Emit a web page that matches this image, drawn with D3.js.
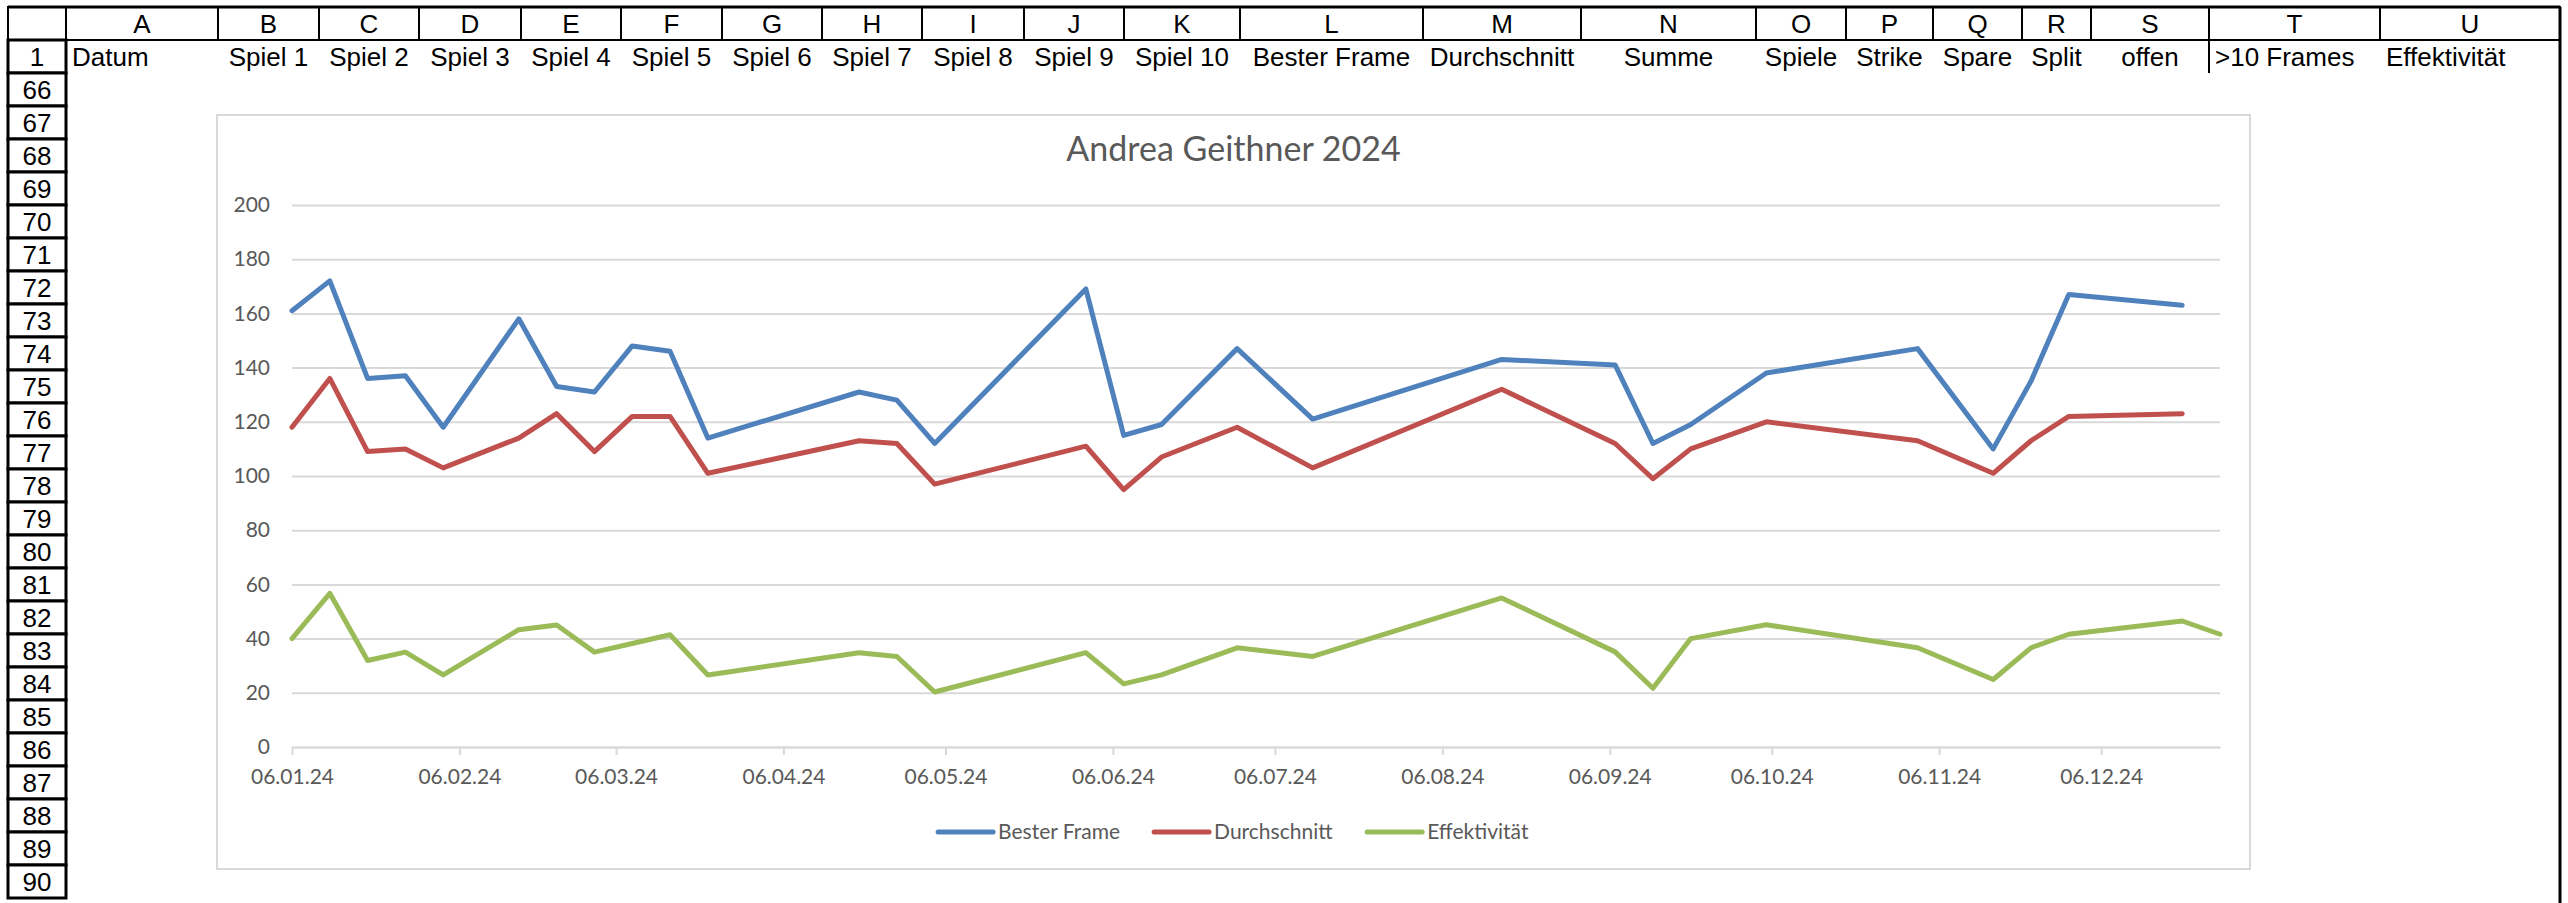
<!DOCTYPE html>
<html>
    <head>
        <title>Andrea Geithner 2024</title>
        <meta charset="utf-8" />
        <script src="https://d3js.org/d3.v7.min.js"></script>
        <style>
            body {
                margin: 0;
                background: white;
            }
            svg {
                display: block;
            }
            .sheet text {
                font-family: 'Liberation Sans', Arial, sans-serif;
                font-size: 26px;
                fill: black;
            }
            .chart text {
                font-family: Lato, 'Open Sans', sans-serif;
                fill: #595959;
            }
        </style>
    </head>
    <body>
        <svg width="2568" height="903"></svg>
        <script>
            // Tabelle
            const columns = ['A', 'B', 'C', 'D', 'E', 'F', 'G', 'H', 'I', 'J', 'K', 'L', 'M', 'N', 'O', 'P', 'Q', 'R', 'S', 'T', 'U']
            const headerRow = ['Datum', 'Spiel 1', 'Spiel 2', 'Spiel 3', 'Spiel 4', 'Spiel 5', 'Spiel 6', 'Spiel 7', 'Spiel 8', 'Spiel 9', 'Spiel 10', 'Bester Frame', 'Durchschnitt', 'Summe', 'Spiele', 'Strike', 'Spare', 'Split', 'offen', '>10 Frames', 'Effektivität']
            const rowNumbers = [1, 66, 67, 68, 69, 70, 71, 72, 73, 74, 75, 76, 77, 78, 79, 80, 81, 82, 83, 84, 85, 86, 87, 88, 89, 90]

            // Diagramm
            const chartTitle = 'Andrea Geithner 2024'
            const dates = ['06.01.24', '13.01.24', '20.01.24', '27.01.24', '03.02.24', '17.02.24', '24.02.24', '02.03.24', '09.03.24', '16.03.24', '23.03.24', '20.04.24', '27.04.24', '04.05.24', '01.06.24', '08.06.24', '15.06.24', '29.06.24', '13.07.24', '17.08.24', '07.09.24', '14.09.24', '21.09.24', '05.10.24', '02.11.24', '16.11.24', '23.11.24', '30.11.24', '21.12.24', '28.12.24']
            const besterFrame = [161, 172, 136, 137, 118, 158, 133, 131, 148, 146, 114, 131, 128, 112, 169, 115, 119, 147, 121, 143, 141, 112, 119, 138, 147, 110, 135, 167, 163, null]
            const durchschnitt = [118, 136, 109, 110, 103, 114, 123, 109, 122, 122, 101, 113, 112, 97, 111, 95, 107, 118, 103, 132, 112, 99, 110, 120, 113, 101, 113, 122, 123, null]
            const effektivitaet = [40, 56.7, 31.9, 35, 26.6, 43.3, 45, 35, 38.2, 41.4, 26.6, 34.8, 33.4, 20.3, 34.8, 23.3, 26.6, 36.6, 33.4, 55, 35.1, 21.7, 40, 45.1, 36.6, 24.9, 36.6, 41.6, 46.5, 41.6]
            const seriesNames = ['Bester Frame', 'Durchschnitt', 'Effektivität']
            const seriesColors = ['#4f81bd', '#c0504d', '#9bbb59']
            const yTicks = [0, 20, 40, 60, 80, 100, 120, 140, 160, 180, 200]
            const xTickLabels = ['06.01.24', '06.02.24', '06.03.24', '06.04.24', '06.05.24', '06.06.24', '06.07.24', '06.08.24', '06.09.24', '06.10.24', '06.11.24', '06.12.24']

            const svg = d3.select('svg')

            // ---- spreadsheet grid ----
            const colEdges = [66, 218, 319, 419, 521, 621, 722, 822, 922, 1024, 1124, 1240, 1423, 1581, 1756, 1846, 1933, 2022, 2091, 2209, 2380, 2560]
            const leftAligned = ['Datum', '>10 Frames', 'Effektivität']
            const sheetLeft = 8
            const headTop = 7
            const rowH = 33
            const rowTop = (i) => headTop + rowH * (i + 1)

            const sheet = svg.append('g').attr('class', 'sheet')

            // column letters
            const colCells = sheet
                .selectAll('g.col')
                .data(columns)
                .enter()
                .append('g')
                .attr('class', 'col')
            colCells
                .append('rect')
                .attr('x', (d, i) => colEdges[i])
                .attr('y', headTop)
                .attr('width', (d, i) => colEdges[i + 1] - colEdges[i])
                .attr('height', rowH)
                .style('fill', 'white')
                .style('stroke', 'black')
                .style('stroke-width', '2px')
            colCells
                .append('text')
                .attr('x', (d, i) => (colEdges[i] + colEdges[i + 1]) / 2)
                .attr('y', headTop + rowH / 2 + 9)
                .attr('text-anchor', 'middle')
                .text((d) => d)

            // corner cell
            sheet
                .append('rect')
                .attr('x', sheetLeft)
                .attr('y', headTop)
                .attr('width', colEdges[0] - sheetLeft)
                .attr('height', rowH)
                .style('fill', 'white')
                .style('stroke', 'black')
                .style('stroke-width', '2px')

            // row numbers
            const rowCells = sheet
                .selectAll('g.row')
                .data(rowNumbers)
                .enter()
                .append('g')
                .attr('class', 'row')
            rowCells
                .append('rect')
                .attr('x', sheetLeft)
                .attr('y', (d, i) => rowTop(i))
                .attr('width', colEdges[0] - sheetLeft)
                .attr('height', rowH)
                .style('fill', 'white')
                .style('stroke', 'black')
                .style('stroke-width', '3px')
            rowCells
                .append('text')
                .attr('x', (sheetLeft + colEdges[0]) / 2)
                .attr('y', (d, i) => rowTop(i) + rowH / 2 + 9)
                .attr('text-anchor', 'middle')
                .text((d) => d)

            // header row 1
            sheet
                .selectAll('text.head')
                .data(headerRow)
                .enter()
                .append('text')
                .attr('class', 'head')
                .attr('x', (d, i) => (leftAligned.includes(d) ? colEdges[i] + 6 : (colEdges[i] + colEdges[i + 1]) / 2))
                .attr('y', rowTop(0) + rowH / 2 + 9)
                .attr('text-anchor', (d) => (leftAligned.includes(d) ? 'start' : 'middle'))
                .text((d) => d)

            // left border of ">10 Frames" and outer sheet borders
            sheet
                .append('line')
                .attr('x1', colEdges[19])
                .attr('x2', colEdges[19])
                .attr('y1', rowTop(0))
                .attr('y2', rowTop(1))
                .style('stroke', 'black')
                .style('stroke-width', '2px')
            sheet
                .append('line')
                .attr('x1', colEdges[21])
                .attr('x2', colEdges[21])
                .attr('y1', headTop)
                .attr('y2', 903)
                .style('stroke', 'black')
                .style('stroke-width', '3px')
            sheet
                .append('line')
                .attr('x1', sheetLeft)
                .attr('x2', colEdges[21])
                .attr('y1', headTop)
                .attr('y2', headTop)
                .style('stroke', 'black')
                .style('stroke-width', '3px')

            // ---- chart ----
            const box = { left: 217, top: 115, right: 2250, bottom: 869 }
            const plot = { left: 292, right: 2220, top: 205, bottom: 747 }

            const chart = svg.append('g').attr('class', 'chart')

            chart
                .append('rect')
                .attr('x', box.left)
                .attr('y', box.top)
                .attr('width', box.right - box.left)
                .attr('height', box.bottom - box.top)
                .style('fill', 'white')
                .style('stroke', '#d9d9d9')
                .style('stroke-width', '2px')

            chart
                .append('text')
                .attr('x', (box.left + box.right) / 2)
                .attr('y', 161)
                .attr('text-anchor', 'middle')
                .style('font-size', '34px')
                .text(chartTitle)

            const parseDate = d3.timeParse('%d.%m.%y')
            const dateValues = dates.map(parseDate)
            const tickDates = xTickLabels.map(parseDate)

            const xScale = d3.scaleTime().domain(d3.extent(dateValues)).range([plot.left, plot.right])
            const yScale = d3.scaleLinear().domain([0, 200]).range([plot.bottom, plot.top])

            // gridlines + y labels
            const yAxis = chart
                .append('g')
                .attr('transform', `translate(${plot.left},0)`)
                .call(
                    d3
                        .axisLeft(yScale)
                        .tickValues(yTicks)
                        .tickSize(-(plot.right - plot.left))
                        .tickPadding(22)
                )
            yAxis.select('.domain').remove()
            yAxis.selectAll('line').style('stroke', '#d9d9d9').style('stroke-width', '2px')
            yAxis
                .selectAll('text')
                .style('font-family', 'Lato, sans-serif')
                .style('font-size', '21px')
                .style('fill', '#595959')

            // x axis
            const xAxis = chart
                .append('g')
                .attr('transform', `translate(0,${plot.bottom})`)
                .call(
                    d3
                        .axisBottom(xScale)
                        .tickValues(tickDates)
                        .tickFormat(d3.timeFormat('%d.%m.%y'))
                        .tickSize(8)
                        .tickSizeOuter(0)
                        .tickPadding(14)
                )
            xAxis.select('.domain').style('stroke', '#d9d9d9').style('stroke-width', '2px')
            xAxis.selectAll('line').style('stroke', '#d9d9d9').style('stroke-width', '2px')
            xAxis
                .selectAll('text')
                .style('font-family', 'Lato, sans-serif')
                .style('font-size', '21px')
                .style('fill', '#595959')

            // series lines
            const seriesValues = [besterFrame, durchschnitt, effektivitaet]
            const series = seriesNames.map((name, k) => ({
                name: name,
                color: seriesColors[k],
                points: dateValues.map((d, i) => ({ date: d, value: seriesValues[k][i] })),
            }))

            const line = d3
                .line()
                .defined((d) => d.value != null)
                .x((d) => xScale(d.date))
                .y((d) => yScale(d.value))

            chart
                .selectAll('path.series')
                .data(series)
                .enter()
                .append('path')
                .attr('class', 'series')
                .attr('d', (d) => line(d.points))
                .style('fill', 'none')
                .style('stroke', (d) => d.color)
                .style('stroke-width', '5px')
                .style('stroke-linejoin', 'round')
                .style('stroke-linecap', 'round')

            // legend
            const legend = chart.append('g')
            const items = legend
                .selectAll('g')
                .data(series)
                .enter()
                .append('g')
            items
                .append('line')
                .attr('x1', 0)
                .attr('x2', 55)
                .attr('y1', 0)
                .attr('y2', 0)
                .style('stroke', (d) => d.color)
                .style('stroke-width', '5px')
                .style('stroke-linecap', 'round')
            items
                .append('text')
                .attr('x', 60)
                .attr('y', 7)
                .style('font-size', '21px')
                .text((d) => d.name)

            let offset = 0
            items.each(function () {
                d3.select(this).attr('transform', `translate(${offset},0)`)
                offset += this.getBBox().width + 34
            })
            const legendWidth = offset - 34
            legend.attr('transform', `translate(${(box.left + box.right) / 2 - legendWidth / 2},832)`)
        </script>
    </body>
</html>
